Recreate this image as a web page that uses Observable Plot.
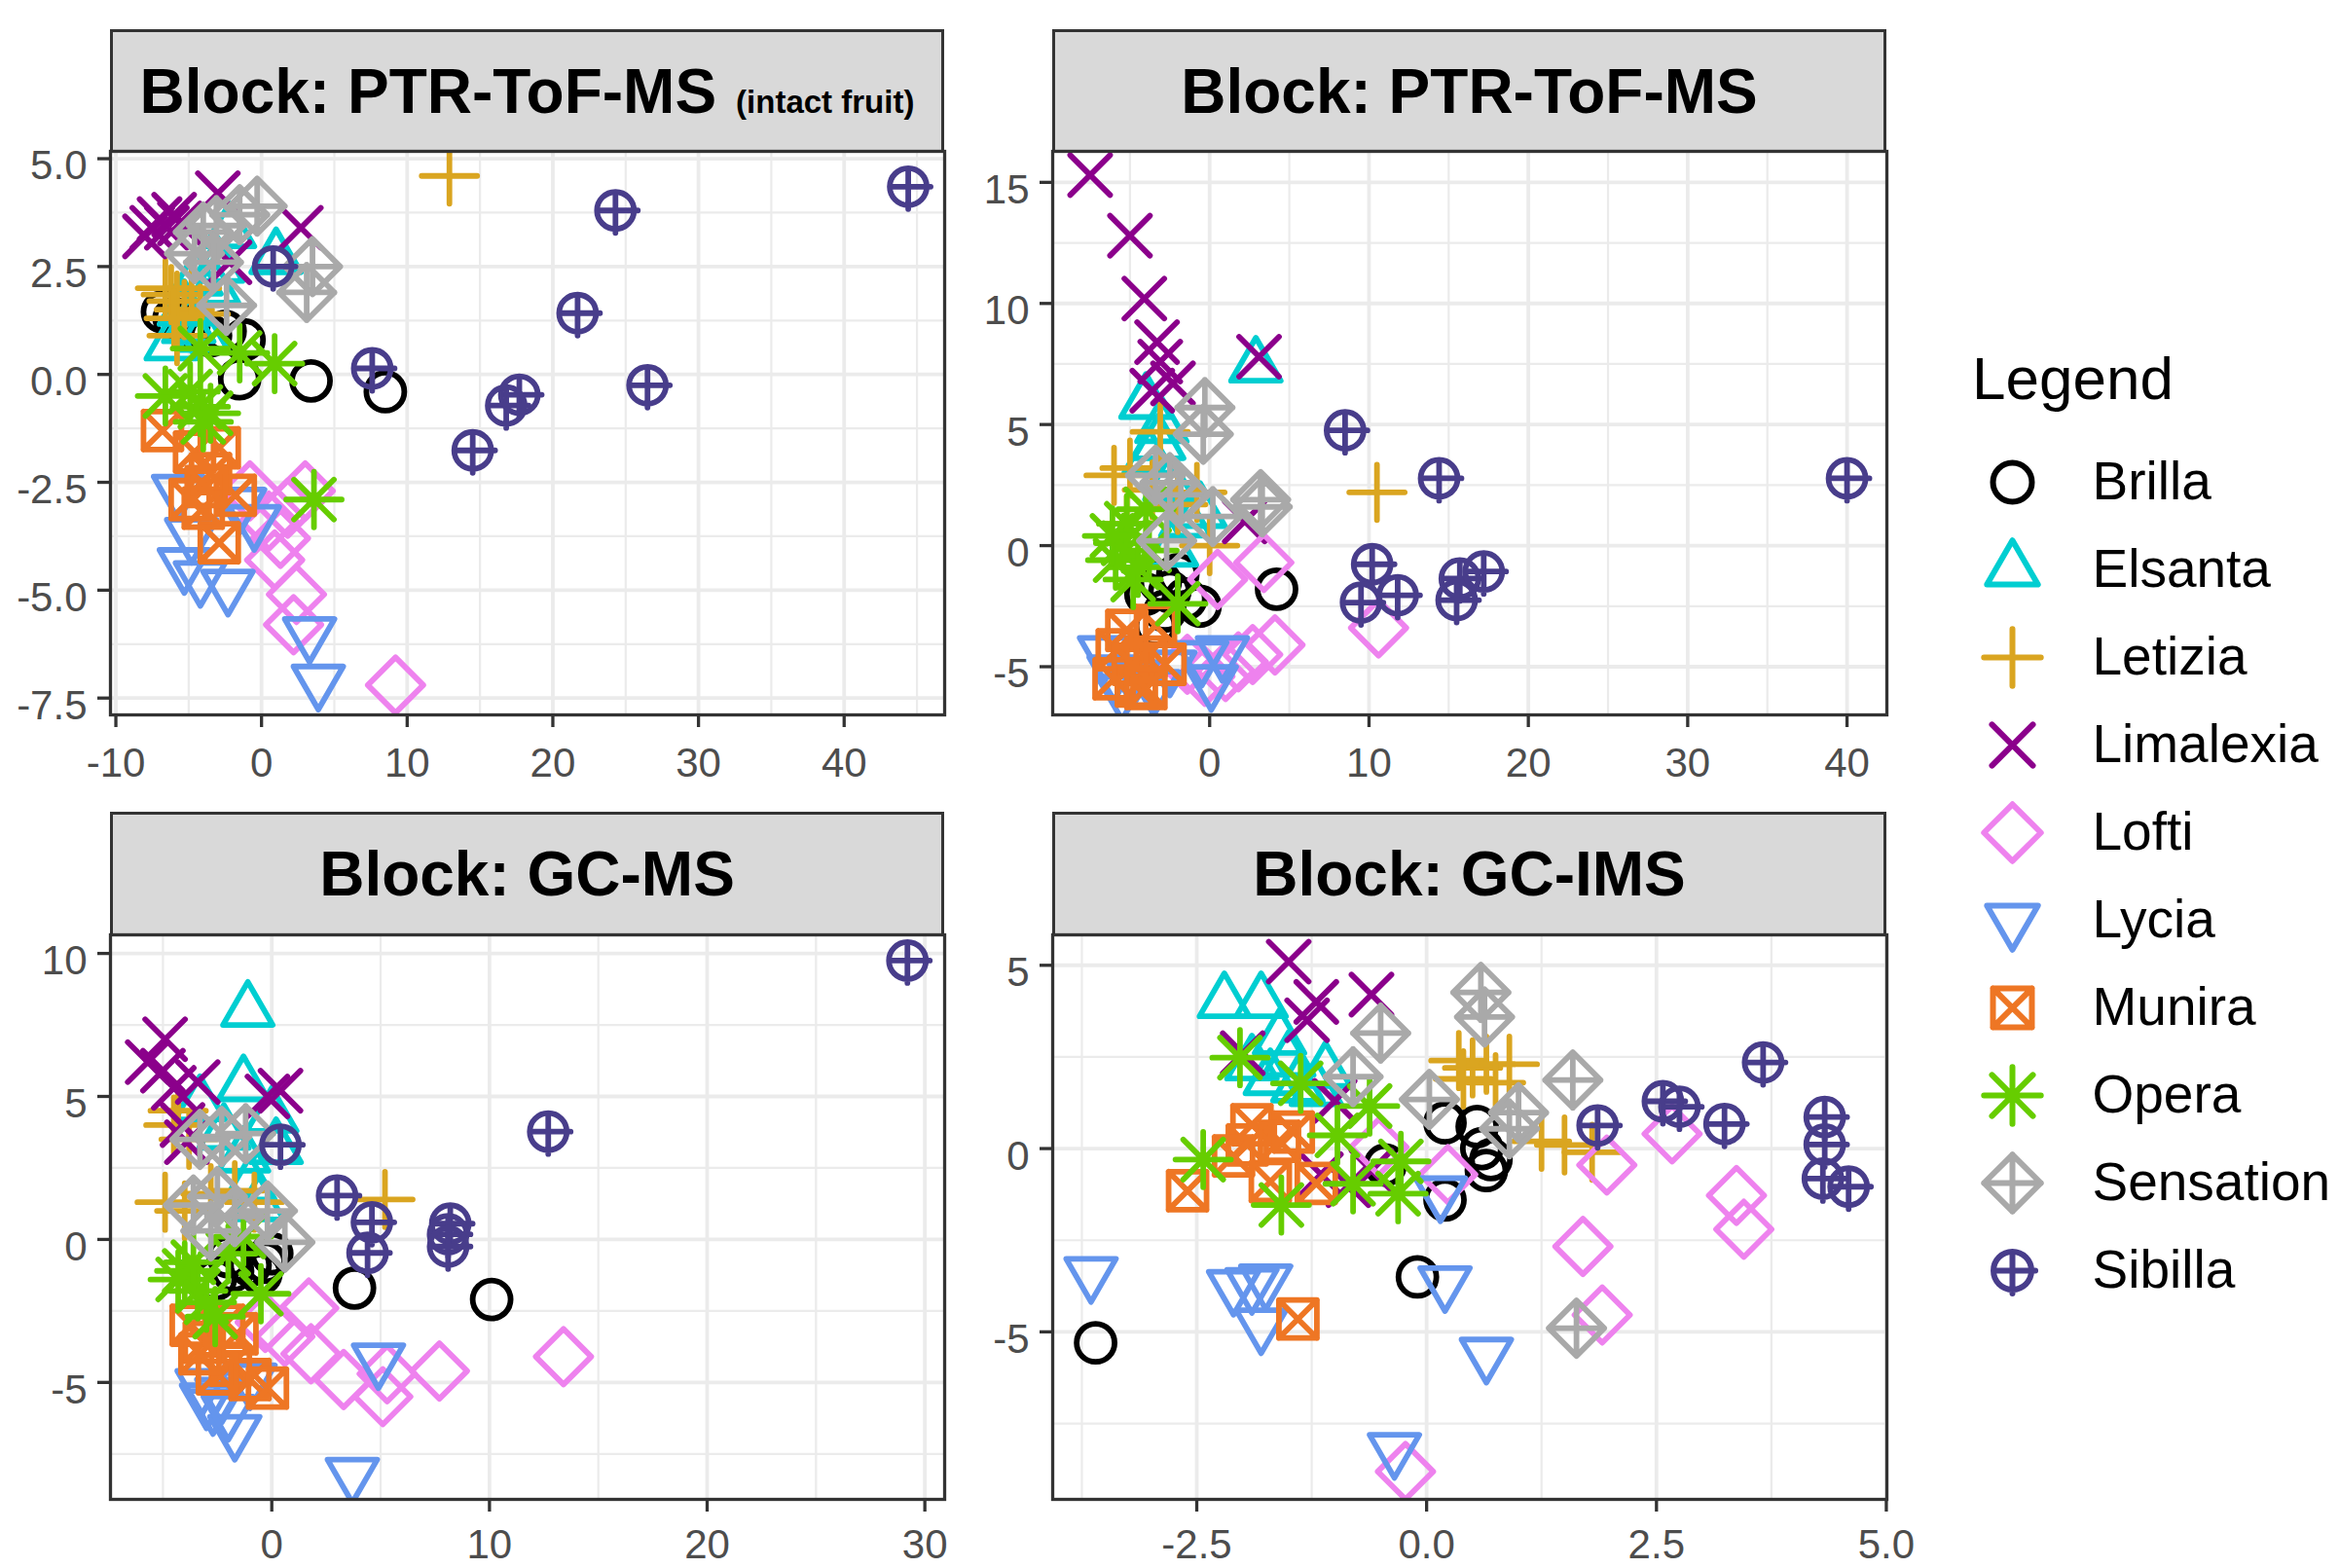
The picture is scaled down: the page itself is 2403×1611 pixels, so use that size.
<!DOCTYPE html>
<html><head><meta charset="utf-8">
<script src="https://cdn.jsdelivr.net/npm/d3@7"></script>
<script src="https://cdn.jsdelivr.net/npm/@observablehq/plot@0.6"></script>
<style>
html,body{margin:0;padding:0;background:#fff;}
#root{position:relative;width:2403px;height:1611px;overflow:hidden;font-family:"Liberation Sans",Arial,Helvetica,sans-serif;background:#fff;}
.strip{position:absolute;box-sizing:border-box;background:#D9D9D9;border:3.3px solid #333;display:flex;align-items:center;justify-content:center;font-weight:bold;font-size:64px;color:#000;white-space:nowrap;}
.strip small{font-size:33px;font-weight:bold;margin-left:20px;}
.panel{position:absolute;}
.panel svg [aria-label^="x-axis"] line,.panel svg [aria-label^="y-axis"] line,
.panel svg [aria-label^="x-axis"] path,.panel svg [aria-label^="y-axis"] path{stroke:#333;stroke-width:3.3px;}
#legendTitle{position:absolute;left:2026px;top:358px;font-size:62px;line-height:1;color:#000;}
</style>
</head><body><div id="root"></div>
<script>
// ---------- categories & styles ----------
const varieties = ["Brilla","Elsanta","Letizia","Limalexia","Lofti","Lycia","Munira","Opera","Sensation","Sibilla"];
const colors = ["#000000","#00CED1","#DAA520","#8B008B","#EE82EE","#6495ED","#EE7624","#66CD00","#A9A9A9","#483D8B"];

// ---------- data: [variety, x, y] ----------
const ptrIntact = [
["Brilla",-6.8,1.45],["Brilla",-6.0,1.3],["Brilla",-5.0,1.1],["Brilla",-2.5,1.0],["Brilla",-1.2,0.8],["Brilla",-1.5,-0.1],["Brilla",3.4,-0.15],["Brilla",8.5,-0.4],["Brilla",-3.5,0.9],
["Elsanta",-6.2,0.7],["Elsanta",-5.3,1.5],["Elsanta",-4.0,0.9],["Elsanta",-3.3,2.0],["Elsanta",-2.2,3.3],["Elsanta",1.0,2.7],["Elsanta",-4.5,2.2],["Elsanta",-3.0,2.5],["Elsanta",-5.0,1.1],
["Letizia",12.9,4.6],["Letizia",-6.6,2.0],["Letizia",-6.2,1.85],["Letizia",-5.8,1.7],["Letizia",-5.3,1.5],["Letizia",-4.2,1.4],["Letizia",-5.8,0.9],["Letizia",-4.8,2.0],["Letizia",-6.0,1.3],
["Limalexia",-8.0,3.2],["Limalexia",-7.5,3.4],["Limalexia",-7.0,3.6],["Limalexia",-6.5,3.4],["Limalexia",-6.0,3.7],["Limalexia",-5.6,3.5],["Limalexia",-3.0,4.2],["Limalexia",2.7,3.4],["Limalexia",-2.2,2.6],
["Lofti",9.2,-7.2],["Lofti",2.2,-5.8],["Lofti",2.4,-5.1],["Lofti",3.0,-2.7],["Lofti",1.8,-3.1],["Lofti",1.3,-3.8],["Lofti",0.9,-4.3],["Lofti",-0.8,-2.7],["Lofti",0.5,-3.4],
["Lycia",3.3,-6.0],["Lycia",3.9,-7.1],["Lycia",-5.3,-4.4],["Lycia",-4.2,-4.7],["Lycia",-2.3,-4.9],["Lycia",-0.5,-3.4],["Lycia",-5.7,-2.7],["Lycia",-4.8,-3.7],["Lycia",-1.5,-3.0],
["Munira",-6.8,-1.3],["Munira",-4.6,-1.8],["Munira",-2.9,-1.7],["Munira",-4.9,-2.9],["Munira",-1.8,-2.8],["Munira",-2.9,-3.9],["Munira",-4.0,-3.1],["Munira",-3.5,-2.3],["Munira",-3.8,-2.6],
["Opera",3.6,-2.9],["Opera",0.9,0.25],["Opera",-1.5,0.5],["Opera",-4.2,0.6],["Opera",-6.6,-0.5],["Opera",-4.2,-0.75],["Opera",-4.0,-1.1],["Opera",-4.9,-0.4],["Opera",-3.5,-0.9],
["Sensation",-0.3,3.9],["Sensation",-3.1,3.45],["Sensation",-4.6,2.8],["Sensation",3.5,2.5],["Sensation",3.1,1.9],["Sensation",-2.4,1.6],["Sensation",-4.0,3.3],["Sensation",-3.3,2.6],["Sensation",-1.5,3.7],
["Sibilla",44.4,4.35],["Sibilla",24.3,3.8],["Sibilla",21.7,1.42],["Sibilla",7.6,0.14],["Sibilla",17.7,-0.47],["Sibilla",16.8,-0.72],["Sibilla",26.5,-0.25],["Sibilla",14.5,-1.76],["Sibilla",0.8,2.5]
];
const ptr = [
["Brilla",4.2,-1.8],["Brilla",-0.6,-2.5],["Brilla",-3.1,-1.5],["Brilla",-3.4,-3.3],["Brilla",-2.5,-1.9],["Brilla",-1.5,-2.2],["Brilla",-4.0,-2.0],["Brilla",-2.0,-1.2],["Brilla",-2.8,-2.7],
["Elsanta",2.9,7.4],["Elsanta",-4.0,5.9],["Elsanta",-3.0,4.9],["Elsanta",-3.8,3.6],["Elsanta",-2.5,2.5],["Elsanta",-0.6,1.4],["Elsanta",-2.4,-0.2],["Elsanta",-3.2,4.2],["Elsanta",-1.5,1.0],
["Letizia",10.5,2.2],["Letizia",-3.1,4.7],["Letizia",-5.0,3.2],["Letizia",-6.0,2.9],["Letizia",-5.2,0.9],["Letizia",0.0,0.0],["Letizia",-0.8,2.2],["Letizia",-3.6,2.3],["Letizia",-2.0,1.7],
["Limalexia",-7.5,15.3],["Limalexia",-5.0,12.8],["Limalexia",-4.1,10.2],["Limalexia",-3.3,8.4],["Limalexia",-3.1,7.6],["Limalexia",-3.6,6.4],["Limalexia",3.1,7.8],["Limalexia",-2.3,6.7],["Limalexia",2.2,1.0],
["Lofti",3.4,-0.7],["Lofti",0.5,-1.4],["Lofti",4.1,-4.1],["Lofti",2.7,-4.5],["Lofti",1.0,-5.2],["Lofti",10.6,-3.4],["Lofti",-0.3,-5.4],["Lofti",-1.4,-4.9],["Lofti",1.8,-4.8],
["Lycia",-6.6,-4.4],["Lycia",0.8,-4.4],["Lycia",0.1,-5.6],["Lycia",-4.8,-5.4],["Lycia",-3.5,-5.8],["Lycia",-5.5,-6.0],["Lycia",-2.5,-5.0],["Lycia",-0.5,-4.6],["Lycia",-6.0,-5.2],
["Munira",-5.2,-3.5],["Munira",-4.0,-4.6],["Munira",-2.8,-4.9],["Munira",-6.0,-5.5],["Munira",-4.6,-5.8],["Munira",-5.8,-4.3],["Munira",-3.4,-3.3],["Munira",-4.8,-4.9],["Munira",-4.0,-5.9],
["Opera",-2.0,-2.4],["Opera",-4.8,-1.4],["Opera",-5.4,0.1],["Opera",-5.2,0.9],["Opera",-4.0,1.5],["Opera",-5.9,-0.6],["Opera",-3.8,-0.2],["Opera",-4.5,-0.9],["Opera",-6.1,0.4],
["Sensation",-0.3,5.7],["Sensation",-0.4,4.6],["Sensation",3.2,1.9],["Sensation",3.3,1.6],["Sensation",-3.4,2.9],["Sensation",-1.8,2.1],["Sensation",0.2,1.2],["Sensation",-2.7,0.2],["Sensation",-2.5,2.6],
["Sibilla",8.5,4.76],["Sibilla",14.4,2.78],["Sibilla",40.0,2.78],["Sibilla",10.2,-0.77],["Sibilla",9.5,-2.35],["Sibilla",11.8,-2.05],["Sibilla",15.7,-1.36],["Sibilla",15.5,-2.25],["Sibilla",17.2,-1.07]
];
const gcms = [
["Brilla",3.8,-1.7],["Brilla",10.1,-2.1],["Brilla",0.0,-0.5],["Brilla",-1.8,-1.1],["Brilla",-0.3,-0.8],["Brilla",-2.6,-1.4],["Brilla",-1.0,-0.9],["Brilla",-0.5,-1.2],["Brilla",-2.0,-0.6],
["Elsanta",-1.1,8.0],["Elsanta",-1.3,5.4],["Elsanta",-3.3,4.7],["Elsanta",0.0,4.3],["Elsanta",-1.3,2.9],["Elsanta",-1.0,1.9],["Elsanta",0.2,3.2],["Elsanta",-2.2,3.7],["Elsanta",-0.6,1.2],
["Letizia",5.2,1.4],["Letizia",-4.3,4.5],["Letizia",-4.9,1.3],["Letizia",-4.0,1.0],["Letizia",-2.8,1.6],["Letizia",-0.8,1.3],["Letizia",-1.7,1.7],["Letizia",-3.8,3.5],["Letizia",-4.5,4.0],
["Limalexia",-4.9,7.0],["Limalexia",-5.7,6.2],["Limalexia",-5.0,5.9],["Limalexia",-3.4,5.5],["Limalexia",-4.1,4.0],["Limalexia",-0.2,5.0],["Limalexia",0.4,5.2],["Limalexia",-3.9,3.4],["Limalexia",-4.5,5.3],
["Lofti",1.7,-2.4],["Lofti",0.6,-3.4],["Lofti",1.8,-4.0],["Lofti",3.3,-4.9],["Lofti",5.1,-5.5],["Lofti",7.7,-4.6],["Lofti",13.4,-4.1],["Lofti",5.3,-4.7],["Lofti",-0.3,-2.9],
["Lycia",4.9,-4.2],["Lycia",3.7,-8.2],["Lycia",-1.7,-6.7],["Lycia",-3.2,-5.1],["Lycia",-2.7,-5.8],["Lycia",-2.3,-5.4],["Lycia",-1.0,-4.9],["Lycia",-3.0,-5.6],["Lycia",-2.0,-6.0],
["Munira",-3.7,-3.0],["Munira",-3.1,-3.6],["Munira",-1.6,-3.3],["Munira",-1.9,-4.4],["Munira",-1.0,-4.9],["Munira",-0.2,-5.2],["Munira",-2.5,-4.7],["Munira",-3.3,-4.0],["Munira",-2.2,-3.0],
["Opera",-0.5,-1.9],["Opera",-2.6,-2.7],["Opera",-4.0,-1.1],["Opera",-4.3,-1.4],["Opera",-1.3,0.1],["Opera",-3.4,-1.8],["Opera",-3.6,-0.8],["Opera",-2.0,-0.5],["Opera",-3.0,-2.2],
["Sensation",-2.3,3.6],["Sensation",-1.2,3.7],["Sensation",-3.3,3.5],["Sensation",-3.6,1.2],["Sensation",-2.5,1.5],["Sensation",-0.2,1.0],["Sensation",0.6,-0.1],["Sensation",-2.8,0.3],["Sensation",-1.7,0.8],
["Sibilla",29.2,9.75],["Sibilla",12.7,3.77],["Sibilla",3.0,1.53],["Sibilla",4.6,0.6],["Sibilla",4.4,-0.47],["Sibilla",8.2,0.55],["Sibilla",8.1,0.18],["Sibilla",8.1,-0.25],["Sibilla",0.4,3.31]
];
const gcims = [
["Brilla",-3.6,-5.3],["Brilla",-0.1,-3.5],["Brilla",0.2,0.7],["Brilla",0.55,0.6],["Brilla",0.6,0.0],["Brilla",0.65,-0.6],["Brilla",0.2,-1.4],["Brilla",-0.45,-0.45],["Brilla",0.7,-0.3],
["Elsanta",-2.2,4.0],["Elsanta",-1.8,4.0],["Elsanta",-1.6,3.0],["Elsanta",-1.7,1.9],["Elsanta",-1.4,1.7],["Elsanta",-1.1,2.1],["Elsanta",-1.5,2.4],["Elsanta",-1.9,2.3],["Elsanta",-1.2,1.6],
["Letizia",0.35,2.4],["Letizia",0.5,2.2],["Letizia",0.65,2.3],["Letizia",0.9,2.3],["Letizia",1.25,0.2],["Letizia",1.5,0.1],["Letizia",1.8,-0.1],["Letizia",0.4,1.9],["Letizia",0.75,1.8],
["Limalexia",-1.5,5.1],["Limalexia",-1.2,4.0],["Limalexia",-1.3,3.5],["Limalexia",-0.6,4.2],["Limalexia",-2.0,2.6],["Limalexia",-1.0,1.3],["Limalexia",-0.85,-1.0],["Limalexia",-1.15,-0.7],["Limalexia",-0.6,-0.6],
["Lofti",1.96,-0.45],["Lofti",2.67,0.4],["Lofti",3.37,-1.28],["Lofti",3.45,-2.2],["Lofti",1.7,-2.67],["Lofti",1.91,-4.54],["Lofti",-0.23,-8.81],["Lofti",0.23,-0.71],["Lofti",-0.52,0.04],
["Lycia",-3.65,-3.4],["Lycia",-2.1,-3.75],["Lycia",-1.9,-3.7],["Lycia",-1.75,-3.6],["Lycia",-1.8,-4.8],["Lycia",0.2,-3.65],["Lycia",0.65,-5.6],["Lycia",-0.35,-8.2],["Lycia",0.15,-1.2],
["Munira",-2.6,-1.15],["Munira",-1.95,0.1],["Munira",-1.9,0.65],["Munira",-1.45,0.45],["Munira",-1.7,-0.9],["Munira",-1.2,-0.95],["Munira",-1.4,-4.65],["Munira",-2.1,-0.2],["Munira",-1.6,0.2],
["Opera",-2.43,-0.3],["Opera",-2.03,2.48],["Opera",-1.37,1.78],["Opera",-0.97,0.36],["Opera",-0.62,1.16],["Opera",-1.58,-1.54],["Opera",-0.8,-0.96],["Opera",-0.28,-0.35],["Opera",-0.31,-1.23],
["Sensation",0.59,4.26],["Sensation",0.63,3.59],["Sensation",-0.5,3.15],["Sensation",-0.8,1.96],["Sensation",0.03,1.34],["Sensation",1.59,1.87],["Sensation",1.0,0.98],["Sensation",0.9,0.54],["Sensation",1.63,-4.9],
["Sibilla",3.66,2.35],["Sibilla",2.57,1.29],["Sibilla",2.75,1.14],["Sibilla",3.24,0.67],["Sibilla",1.86,0.63],["Sibilla",4.33,0.86],["Sibilla",4.33,0.11],["Sibilla",4.31,-0.82],["Sibilla",4.59,-1.04]
];

// ---------- tick labels ----------
const ptrIntactXTicks = [-10,0,10,20,30,40], ptrIntactXMinor = [-5,5,15,25,35,45];
const ptrIntactYTicks = [5,2.5,0,-2.5,-5,-7.5], ptrIntactYMinor = [3.75,1.25,-1.25,-3.75,-6.25];
const ptrXTicks = [0,10,20,30,40], ptrXMinor = [-5,5,15,25,35];
const ptrYTicks = [15,10,5,0,-5], ptrYMinor = [12.5,7.5,2.5,-2.5];
const gcmsXTicks = [0,10,20,30], gcmsXMinor = [-5,5,15,25];
const gcmsYTicks = [10,5,0,-5], gcmsYMinor = [7.5,2.5,-2.5,-7.5];
const gcimsXTicks = [-2.5,0,2.5,5], gcimsXMinor = [-3.75,-1.25,1.25,3.75];
const gcimsYTicks = [5,0,-5], gcimsYMinor = [2.5,-2.5,-7.5];

// ---------- custom symbols (ggplot shapes) ----------
const sym = fn => ({draw(c, size){ const k = Math.sqrt(size/Math.PI)/20; fn(c,k); }});
const circ = (c,r) => { c.moveTo(r,0); c.arc(0,0,r,0,2*Math.PI); c.closePath(); };
const shapes = [
  sym((c,k)=>circ(c,19.5*k)),
  sym((c,k)=>{const R=29.5*k; c.moveTo(0,-R); c.lineTo(0.866*R,R/2); c.lineTo(-0.866*R,R/2); c.closePath();}),
  sym((c,k)=>{const a=28.5*k; c.moveTo(-a,0); c.lineTo(a,0); c.moveTo(0,-a); c.lineTo(0,a);}),
  sym((c,k)=>{const a=20.5*k; c.moveTo(-a,-a); c.lineTo(a,a); c.moveTo(-a,a); c.lineTo(a,-a);}),
  sym((c,k)=>{const a=28.5*k; c.moveTo(0,-a); c.lineTo(a,0); c.lineTo(0,a); c.lineTo(-a,0); c.closePath();}),
  sym((c,k)=>{const R=29.5*k; c.moveTo(0,R); c.lineTo(0.866*R,-R/2); c.lineTo(-0.866*R,-R/2); c.closePath();}),
  sym((c,k)=>{const a=19.5*k; c.moveTo(-a,-a); c.lineTo(a,-a); c.lineTo(a,a); c.lineTo(-a,a); c.closePath(); c.moveTo(-a,-a); c.lineTo(a,a); c.moveTo(-a,a); c.lineTo(a,-a);}),
  sym((c,k)=>{const a=28.5*k, b=20.5*k; c.moveTo(-a,0); c.lineTo(a,0); c.moveTo(0,-a); c.lineTo(0,a); c.moveTo(-b,-b); c.lineTo(b,b); c.moveTo(-b,b); c.lineTo(b,-b);}),
  sym((c,k)=>{const a=28.5*k; c.moveTo(0,-a); c.lineTo(a,0); c.lineTo(0,a); c.lineTo(-a,0); c.closePath(); c.moveTo(-a,0); c.lineTo(a,0); c.moveTo(0,-a); c.lineTo(0,a);}),
  sym((c,k)=>{const r=19*k; circ(c,r); c.moveTo(-r,0); c.lineTo(r+4*k,0); c.moveTo(0,-r); c.lineTo(0,r+4*k);})
];

const fmt1 = d => (d < 0 ? "-" : "") + Math.abs(d).toFixed(1);
const fmt0 = d => (d < 0 ? "-" : "") + Math.abs(d);

const root = document.getElementById("root");
const ML = 113, MR = 6, MT = 4, MB = 90, W = 857;

function addStrip(left, top, h, html){
  const s = document.createElement("div");
  s.className = "strip";
  Object.assign(s.style, {left: left+"px", top: top+"px", width: W+"px", height: h+"px"});
  s.innerHTML = "<span>" + html + "</span>";
  root.appendChild(s);
}

function addPanel(data, left, top, H, o){
  const svg = Plot.plot({
    width: ML + W + MR, height: MT + H + MB,
    marginLeft: ML, marginRight: MR, marginTop: MT, marginBottom: MB,
    style: {background: "transparent", fontSize: "42px", fontFamily: "'Liberation Sans', Arial, sans-serif", color: "#4D4D4D", maxWidth: "none", overflow: "visible"},
    x: {domain: o.xd, ticks: o.xt, tickFormat: o.xf, tickSize: 13, tickPadding: o.xpad, label: null},
    y: {domain: o.yd, ticks: o.yt, tickFormat: o.yf, tickSize: 13, tickPadding: 11, label: null},
    color: {domain: varieties, range: colors},
    symbol: {domain: varieties, range: shapes},
    marks: [
      Plot.ruleX(o.xm, {stroke: "#EBEBEB", strokeWidth: 2.2}),
      Plot.ruleY(o.ym, {stroke: "#EBEBEB", strokeWidth: 2.2}),
      Plot.ruleX(o.xt, {stroke: "#EBEBEB", strokeWidth: 3.8}),
      Plot.ruleY(o.yt, {stroke: "#EBEBEB", strokeWidth: 3.8}),
      Plot.dot(data, {x: d => d[1], y: d => d[2], symbol: d => d[0], stroke: d => d[0], fill: "none",
        r: 20, strokeWidth: 5.8, strokeLinecap: "round", strokeLinejoin: "round", clip: true}),
      Plot.frame({stroke: "#333333", strokeWidth: 3.3})
    ]
  });
  // ggplot places y tick labels slightly below the tick: nudge them down
  svg.querySelectorAll('[aria-label^="y-axis"] text').forEach(t => {
    const tr = t.getAttribute("transform") || "";
    t.setAttribute("transform", (tr + " translate(0,8)").trim());
  });
  const div = document.createElement("div");
  div.className = "panel";
  Object.assign(div.style, {left: (left-ML)+"px", top: (top-MT)+"px", width: (ML+W+MR)+"px"});
  div.appendChild(svg);
  root.appendChild(div);
}

// strips
addStrip(113, 30, 127, "Block: PTR-ToF-MS<small>(intact fruit)</small>");
addStrip(1081, 30, 127, "Block: PTR-ToF-MS");
addStrip(113, 834, 128, "Block: GC-MS");
addStrip(1081, 834, 128, "Block: GC-IMS");

addPanel(ptrIntact, 113, 155, 579, {xd: [-10.37, 46.9], yd: [-7.89, 5.17], xt: ptrIntactXTicks, xm: ptrIntactXMinor, yt: ptrIntactYTicks, ym: ptrIntactYMinor, xf: fmt0, yf: fmt1, xpad: 21});
addPanel(ptr, 1081, 155, 579, {xd: [-9.85, 42.5], yd: [-6.99, 16.28], xt: ptrXTicks, xm: ptrXMinor, yt: ptrYTicks, ym: ptrYMinor, xf: fmt0, yf: fmt0, xpad: 21});
addPanel(gcms, 113, 960, 580, {xd: [-7.41, 30.91], yd: [-9.09, 10.65], xt: gcmsXTicks, xm: gcmsXMinor, yt: gcmsYTicks, ym: gcmsYMinor, xf: fmt0, yf: fmt0, xpad: 18});
addPanel(gcims, 1081, 960, 580, {xd: [-4.067, 5.006], yd: [-9.57, 5.83], xt: gcimsXTicks, xm: gcimsXMinor, yt: gcimsYTicks, ym: gcimsYMinor, xf: fmt1, yf: fmt0, xpad: 18});

// legend
const title = document.createElement("div");
title.id = "legendTitle";
title.textContent = "Legend";
root.appendChild(title);

const legend = Plot.plot({
  width: 376, height: 920, marginLeft: 40, marginRight: 0, marginTop: 55, marginBottom: 55,
  style: {background: "transparent", fontFamily: "'Liberation Sans', Arial, sans-serif", maxWidth: "none", overflow: "visible"},
  y: {type: "point", domain: varieties, padding: 0, axis: null},
  color: {domain: varieties, range: colors},
  symbol: {domain: varieties, range: shapes},
  marks: [
    Plot.dot(varieties, {y: d => d, symbol: d => d, stroke: d => d, fill: "none", frameAnchor: "left",
      r: 20.5, strokeWidth: 6, strokeLinecap: "round", strokeLinejoin: "round"}),
    Plot.text(varieties, {y: d => d, text: d => d, frameAnchor: "left", dx: 82, textAnchor: "start", fontSize: 55, fill: "#000"})
  ]
});
const ld = document.createElement("div");
ld.className = "panel";
Object.assign(ld.style, {left: "2027px", top: "440px", width: "376px"});
ld.appendChild(legend);
root.appendChild(ld);
</script>
</body></html>
